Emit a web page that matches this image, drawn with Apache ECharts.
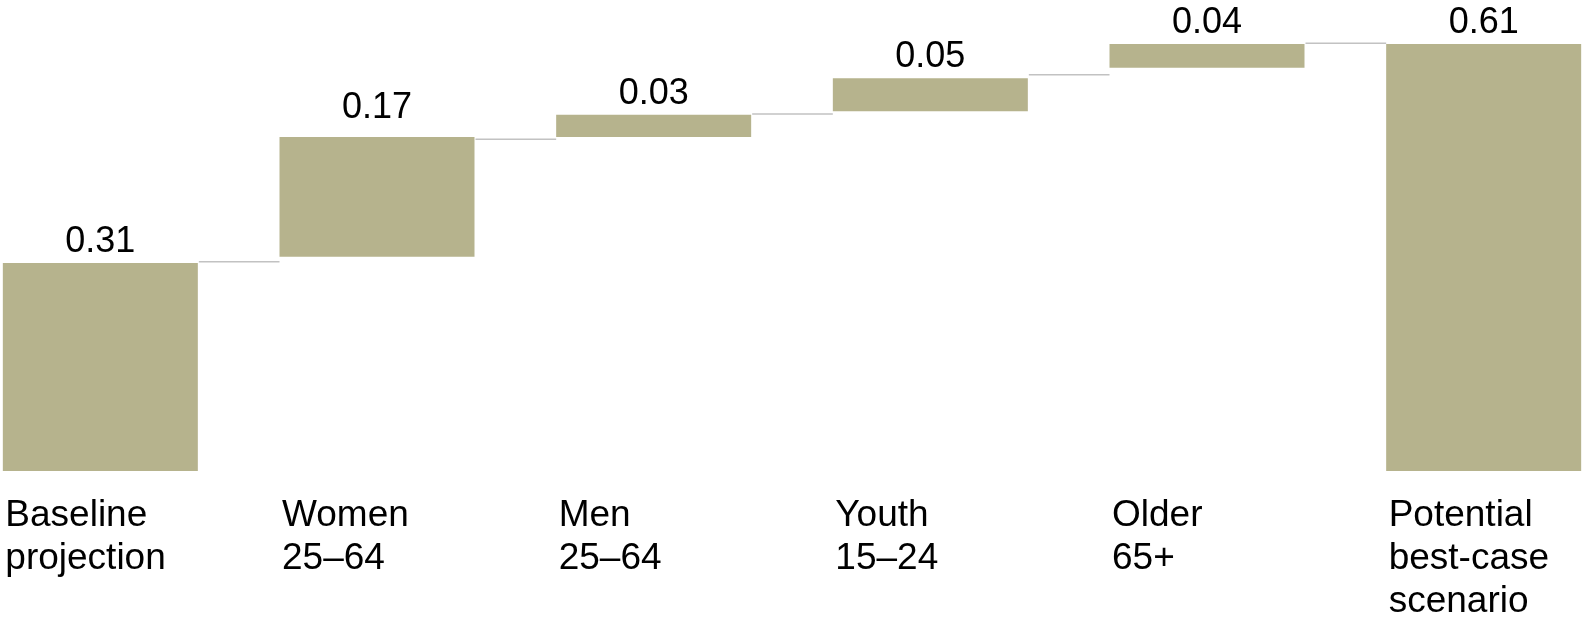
<!DOCTYPE html>
<html>
<head>
<meta charset="utf-8">
<script src="https://cdn.jsdelivr.net/npm/echarts@6/dist/echarts.min.js"></script>
<style>
    html, body { margin: 0; padding: 0; background: #fff; }
    #chart { width: 1582px; height: 619px; }
</style>
</head>
<body>
<div id="chart"></div>
<script>
// categories (multi-line labels)
var categories = [
    ['Baseline', 'projection'],
    ['Women', '25–64'],
    ['Men', '25–64'],
    ['Youth', '15–24'],
    ['Older', '65+'],
    ['Potential', 'best-case', 'scenario']
];
// labels shown over the bars
var shownValues = ['0.31', '0.17', '0.03', '0.05', '0.04', '0.61'];
// bar bottoms / tops
var barBottom = [0, 0.306, 0.477, 0.514, 0.576, 0];
var barTop = [0.297, 0.477, 0.509, 0.561, 0.61, 0.61];
// thin connector levels between neighbouring bars
var connectorLevel = [0.299, 0.474, 0.510, 0.566, 0.611];

var FONT = 'Liberation Sans, Arial, Helvetica, sans-serif';
var BAR_COLOR = '#b6b38d';
var BAR_WIDTH = 195;

var chart = echarts.init(document.getElementById('chart'));

var heights = [];
for (var i = 0; i < barTop.length; i++) {
    heights.push(+(barTop[i] - barBottom[i]).toFixed(4));
}

var connectorData = [];
for (var j = 0; j < connectorLevel.length; j++) {
    connectorData.push([j, connectorLevel[j]]);
}

chart.setOption({
    animation: false,
    backgroundColor: '#fff',
    grid: {
        left: -38,
        right: -40,
        top: 9,
        bottom: 148,
        containLabel: false,
        outerBoundsMode: 'none'
    },
    xAxis: {
        type: 'category',
        data: categories.map(function (c) { return c.join('\n'); }),
        axisLine: { show: false },
        axisTick: { show: false },
        axisLabel: {
            interval: 0,
            margin: 23,
            align: 'center',
            verticalAlign: 'top',
            formatter: function (val) {
                return val.split('\n').map(function (l) {
                    return '{a|' + l + '}';
                }).join('\n');
            },
            rich: {
                a: {
                    width: 190,
                    align: 'left',
                    fontFamily: FONT,
                    fontSize: 37,
                    lineHeight: 43,
                    color: '#000'
                }
            }
        }
    },
    yAxis: {
        type: 'value',
        min: 0,
        max: 0.66,
        show: false,
        splitLine: { show: false }
    },
    series: [
        {
            // invisible offset
            type: 'bar',
            stack: 'wf',
            barWidth: BAR_WIDTH,
            silent: true,
            itemStyle: { color: 'transparent' },
            data: barBottom
        },
        {
            type: 'bar',
            stack: 'wf',
            barWidth: BAR_WIDTH,
            itemStyle: { color: BAR_COLOR },
            label: {
                show: true,
                position: 'top',
                distance: 3,
                fontFamily: FONT,
                fontSize: 36,
                lineHeight: 36,
                color: '#000',
                formatter: function (p) { return shownValues[p.dataIndex]; }
            },
            data: heights.map(function (h, k) {
                if (k === 1) {
                    return { value: h, label: { distance: 11 } };
                }
                return h;
            })
        },
        {
            type: 'custom',
            silent: true,
            renderItem: function (params, api) {
                var idx = api.value(0);
                var p1 = api.coord([idx, api.value(1)]);
                var p2 = api.coord([idx + 1, api.value(1)]);
                var half = BAR_WIDTH / 2;
                return {
                    type: 'line',
                    shape: { x1: p1[0] + half + 1, y1: p1[1], x2: p2[0] - half, y2: p2[1] },
                    style: { stroke: '#c2c2c2', lineWidth: 1.5 }
                };
            },
            data: connectorData,
            z: 1
        }
    ]
});
</script>
</body>
</html>
